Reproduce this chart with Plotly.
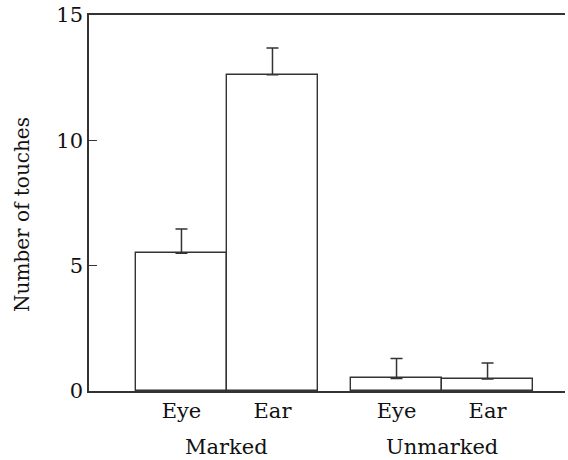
import plotly.graph_objects as go

categories = ["Eye", "Ear", "Eye", "Ear"]
groups = ["Marked", "Unmarked"]
group_of_bar = [0, 0, 1, 1]
bar_pos = [0, 1, 2.363, 3.363]
means = [5.5, 12.62, 0.5, 0.48]
errors = [0.96, 1.06, 0.8, 0.64]
y_title = "Number of touches"

line_col = "#333333"
text_col = "#111111"
font_family = "DejaVu Serif"

fig = go.Figure()
fig.add_trace(go.Bar(
    x=bar_pos, y=means, width=1.0,
    marker=dict(color="white", line=dict(color=line_col, width=1.4)),
    error_y=dict(type="data", symmetric=False, array=errors,
                 arrayminus=[0] * len(errors),
                 color=line_col, thickness=1.5, width=6),
    showlegend=False,
))

for gi, g in enumerate(groups):
    xs = [p for p, k in zip(bar_pos, group_of_bar) if k == gi]
    fig.add_annotation(x=sum(xs) / len(xs), xref="x", y=-0.149, yref="paper",
                       text=g, showarrow=False, yanchor="middle",
                       font=dict(family=font_family, size=21, color=text_col))

fig.add_annotation(x=-0.1408, xref="paper", y=0.471, yref="paper",
                   text=y_title, textangle=-90, showarrow=False,
                   xanchor="center", yanchor="middle",
                   font=dict(family=font_family, size=20, color=text_col))

fig.update_layout(
    width=568, height=460,
    margin=dict(l=89, r=3, t=15, b=69, autoexpand=False),
    plot_bgcolor="white", paper_bgcolor="white",
    font=dict(family=font_family, color=text_col),
    bargap=0,
    xaxis=dict(range=[-1.016, 4.214], tickvals=bar_pos, ticktext=categories,
               automargin=False,
               showline=True, mirror=True, linecolor=line_col, linewidth=1.5,
               showgrid=False, zeroline=False, ticks="",
               tickfont=dict(family=font_family, size=21, color=text_col)),
    yaxis=dict(range=[0, 15], tickvals=[0, 5, 10, 15], automargin=False,
               showline=True, linecolor=line_col, linewidth=1.5,
               showgrid=False, zeroline=False, ticks="inside", ticklen=8,
               tickcolor=line_col, tickwidth=1.2,
               tickfont=dict(family=font_family, size=21, color=text_col)),
)

fig.write_html("out.html", config={"displayModeBar": False},
               post_script="document.body.style.margin='0px';document.body.style.overflow='hidden';")
